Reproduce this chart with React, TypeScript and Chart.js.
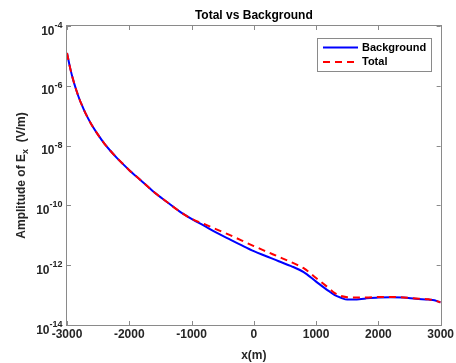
import React, { useEffect, useRef } from "react";
import { Chart, registerables } from "chart.js";

Chart.register(...registerables);

const xPositions = [
  -3000, -2950, -2900, -2850, -2800, -2750, -2700, -2600, -2500, -2400, -2300, -2200,
  -2100, -2000, -1800, -1600, -1400, -1200, -1000, -800, -600, -400, -200, 0, 200, 400, 600,
  800, 1000, 1200, 1300, 1400, 1500, 1600, 1800, 2000, 2200, 2400, 2600, 2800, 2900,
  2950, 3000,
];

const backgroundValues = [
  1.26e-5, 3.98e-6, 1.55e-6, 7.08e-7, 3.55e-7, 2.0e-7, 1.17e-7,
  4.79e-8, 2.29e-8, 1.17e-8, 6.61e-9, 3.89e-9,
  2.4e-9, 1.51e-9, 6.46e-10, 2.75e-10, 1.32e-10, 6.46e-11, 3.55e-11,
  2.09e-11, 1.23e-11, 7.59e-12, 4.68e-12, 2.95e-12,
  2.0e-12, 1.35e-12, 9.33e-13, 5.89e-13, 2.82e-13,
  1.38e-13, 1.0e-13, 8.13e-14, 7.08e-14, 7.08e-14,
  7.76e-14, 8.32e-14, 8.51e-14, 8.32e-14, 7.59e-14,
  7.08e-14, 6.76e-14, 6.17e-14, 5.75e-14,
];

const totalValues = [
  1.26e-5, 3.98e-6, 1.55e-6, 7.08e-7, 3.55e-7, 2.0e-7, 1.17e-7,
  4.79e-8, 2.29e-8, 1.17e-8, 6.61e-9, 3.89e-9,
  2.4e-9, 1.51e-9, 6.46e-10, 2.75e-10, 1.32e-10, 6.46e-11, 3.55e-11,
  2.4e-11, 1.58e-11, 1.05e-11, 6.76e-12, 4.37e-12,
  2.88e-12, 1.91e-12, 1.26e-12, 7.94e-13, 3.72e-13,
  1.74e-13, 1.17e-13, 9.33e-14, 8.51e-14, 8.32e-14,
  8.32e-14, 8.71e-14, 8.71e-14, 8.32e-14, 7.76e-14,
  7.24e-14, 6.76e-14, 6.17e-14, 5.75e-14,
];

const xTicks = [-3000, -2000, -1000, 0, 1000, 2000, 3000];
const yTickValues = [1e-14, 1e-12, 1e-10, 1e-8, 1e-6, 1e-4];
const yTickExponents = ["-14", "-12", "-10", "-8", "-6", "-4"];

const seriesNames = ["Background", "Total"];
const titleText = "Total vs Background";
const xTitle = "x(m)";

const FONT = "'Liberation Sans', Arial, Helvetica, sans-serif";
const AXIS_COLOR = "#8a8a8a";
const TEXT_COLOR = "#262626";

const decorPlugin = {
  id: "matlabDecor",
  afterDraw(chart: any) {
    const ctx = chart.ctx as CanvasRenderingContext2D;
    const { left, right, top, bottom } = chart.chartArea;
    const xs = chart.scales.x;
    const ys = chart.scales.y;
    ctx.save();

    // axes box
    ctx.strokeStyle = AXIS_COLOR;
    ctx.lineWidth = 1;
    ctx.setLineDash([]);
    ctx.strokeRect(Math.round(left) - 0.5, Math.round(top) - 0.5, Math.round(right - left) + 1, Math.round(bottom - top) + 1);

    // ticks inward
    const tl = 4;
    ctx.beginPath();
    for (const t of xTicks) {
      const px = Math.round(xs.getPixelForValue(t)) + 0.5;
      ctx.moveTo(px, bottom);
      ctx.lineTo(px, bottom - tl);
      ctx.moveTo(px, top);
      ctx.lineTo(px, top + tl);
    }
    for (const v of yTickValues) {
      const py = Math.round(ys.getPixelForValue(v)) + 0.5;
      ctx.moveTo(left, py);
      ctx.lineTo(left + tl, py);
      ctx.moveTo(right, py);
      ctx.lineTo(right - tl, py);
    }
    ctx.stroke();

    // y tick labels 10^n
    ctx.fillStyle = TEXT_COLOR;
    ctx.textBaseline = "alphabetic";
    ctx.textAlign = "left";
    yTickValues.forEach((v, i) => {
      const py = ys.getPixelForValue(v);
      const exp = yTickExponents[i];
      ctx.font = `bold 9px ${FONT}`;
      const ew = ctx.measureText(exp).width;
      ctx.font = `bold 12px ${FONT}`;
      const bw = ctx.measureText("10").width;
      const rightEdge = left - 4.5;
      const bx = rightEdge - ew - bw;
      ctx.fillText("10", bx, py + 8.5);
      ctx.font = `bold 9px ${FONT}`;
      ctx.fillText(exp, bx + bw, py + 2);
    });

    // title
    ctx.fillStyle = "#000";
    ctx.font = `bold 12px ${FONT}`;
    ctx.textAlign = "center";
    ctx.textBaseline = "middle";
    ctx.fillText(titleText, (left + right) / 2, 15.5);

    // x axis title
    ctx.fillStyle = TEXT_COLOR;
    ctx.fillText(xTitle, (left + right) / 2, 356);

    // y axis title with subscript
    ctx.save();
    ctx.translate(20, (top + bottom) / 2);
    ctx.rotate(-Math.PI / 2);
    const p1 = "Amplitude of E";
    const p2 = "x";
    const p3 = "  (V/m)";
    ctx.font = `bold 12px ${FONT}`;
    const w1 = ctx.measureText(p1).width;
    const w3 = ctx.measureText(p3).width;
    ctx.font = `bold 9px ${FONT}`;
    const w2 = ctx.measureText(p2).width;
    const total = w1 + w2 + w3;
    let cx = -total / 2;
    ctx.textAlign = "left";
    ctx.textBaseline = "alphabetic";
    ctx.font = `bold 12px ${FONT}`;
    ctx.fillText(p1, cx, 4.5);
    cx += w1;
    ctx.font = `bold 9px ${FONT}`;
    ctx.fillText(p2, cx, 7.5);
    cx += w2;
    ctx.font = `bold 12px ${FONT}`;
    ctx.fillText(p3, cx, 4.5);
    ctx.restore();

    // legend box
    const lx = 317, ly = 38, lw = 114, lh = 33;
    ctx.fillStyle = "#fff";
    ctx.fillRect(lx, ly, lw, lh);
    ctx.strokeStyle = AXIS_COLOR;
    ctx.lineWidth = 1;
    ctx.strokeRect(lx + 0.5, ly + 0.5, lw, lh);
    const rows = [
      { y: 47.5, color: "#0000ff", dash: [] as number[] },
      { y: 62, color: "#ff0000", dash: [7, 5] },
    ];
    rows.forEach((r, i) => {
      ctx.strokeStyle = r.color;
      ctx.lineWidth = 2;
      ctx.setLineDash(r.dash);
      ctx.beginPath();
      ctx.moveTo(323, r.y);
      ctx.lineTo(358, r.y);
      ctx.stroke();
      ctx.setLineDash([]);
      ctx.fillStyle = "#000";
      ctx.font = `bold 11px ${FONT}`;
      ctx.textAlign = "left";
      ctx.textBaseline = "middle";
      ctx.fillText(seriesNames[i], 362, r.y);
    });

    ctx.restore();
  },
};

export default function App() {
  const canvasRef = useRef<HTMLCanvasElement | null>(null);

  useEffect(() => {
    const canvas = canvasRef.current;
    if (!canvas) return;
    const bgData = xPositions.map((x, i) => ({ x, y: backgroundValues[i] }));
    const totData = xPositions.map((x, i) => ({ x, y: totalValues[i] }));
    const chart = new Chart(canvas, {
      type: "line",
      data: {
        datasets: [
          {
            label: seriesNames[0],
            data: bgData,
            borderColor: "#0000ff",
            borderWidth: 2,
            pointRadius: 0,
            fill: false,
            cubicInterpolationMode: "monotone",
            order: 1,
          },
          {
            label: seriesNames[1],
            data: totData,
            borderColor: "#ff0000",
            borderWidth: 2,
            borderDash: [7, 5],
            pointRadius: 0,
            fill: false,
            cubicInterpolationMode: "monotone",
            order: 0,
          },
        ],
      },
      options: {
        responsive: false,
        animation: false,
        layout: { padding: { top: 26, right: 14, left: 0, bottom: 0 } },
        plugins: {
          legend: { display: false },
          title: { display: false },
          tooltip: { enabled: false },
        },
        scales: {
          x: {
            type: "linear",
            min: -3000,
            max: 3000,
            afterBuildTicks: (scale: any) => {
              scale.ticks = xTicks.map((v) => ({ value: v }));
            },
            afterFit: (scale: any) => {
              scale.height = 38;
            },
            grid: { display: false, drawTicks: false },
            border: { display: false },
            ticks: {
              padding: 2,
              maxRotation: 0,
              autoSkip: false,
              color: TEXT_COLOR,
              font: { family: FONT, size: 12, weight: "bold" },
              callback: (v: any) => String(v),
            },
          },
          y: {
            type: "logarithmic",
            min: 1e-14,
            max: 1e-4,
            afterFit: (scale: any) => {
              scale.width = 67;
            },
            grid: { display: false, drawTicks: false },
            border: { display: false },
            ticks: { display: false },
          },
        },
      },
      plugins: [decorPlugin],
    });
    return () => chart.destroy();
  }, []);

  return (
    <div style={{ position: "fixed", left: 0, top: 0, width: 456, height: 363, background: "#fff" }}>
      <canvas ref={canvasRef} width={456} height={363} style={{ display: "block" }} />
    </div>
  );
}
